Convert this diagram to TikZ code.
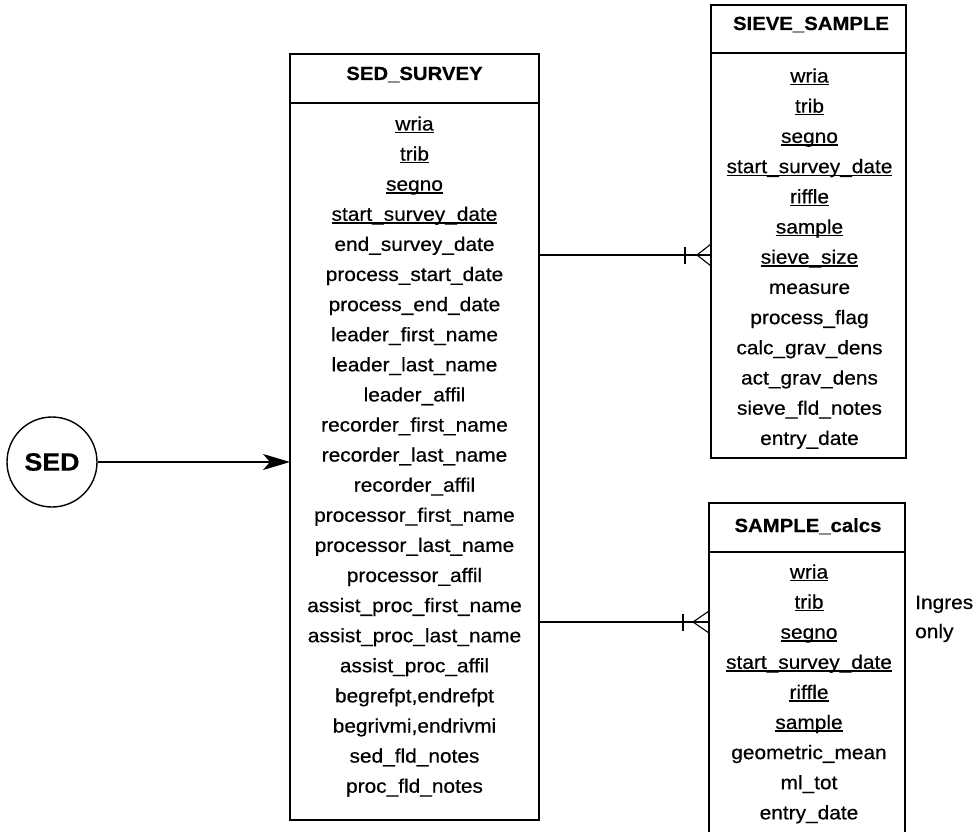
\documentclass[tikz,border=0pt]{standalone}
\usepackage{fontspec}
\setmainfont{Liberation Sans}[FakeStretch=1.07,FakeBold=0.5]
\usetikzlibrary{arrows.meta}

% key attribute: text with a rule just under the baseline
\newcommand\keyfield[1]{\setbox0\hbox{#1}\rlap{\rule[-2.8pt]{\wd0}{1.4pt}}\box0}

\tikzset{
  field/.style={font=\fontsize{19.5}{22}\selectfont, anchor=base, inner sep=0pt},
  etitle/.style={font=\fontsize{19}{22}\selectfont\bfseries, anchor=base, inner sep=0pt},
  box/.style={draw, line width=1.6pt, inner sep=0pt, outer sep=0pt},
  link/.style={line width=1.1pt},
  note/.style={font=\fontsize{19.5}{22}\selectfont, anchor=base west, inner sep=0pt},
}

\begin{document}
\begin{tikzpicture}[x=1pt,y=-1pt]
\useasboundingbox (0,0) rectangle (977,832);

% ---------- SED_SURVEY ----------
\node[box, anchor=north west, minimum width=249, minimum height=49] (surveyhead) at (290,54) {};
\node[box, anchor=north west, minimum width=249, minimum height=717] (surveybody) at (290,103) {};
\node[etitle] (surveytitle) at (414.5,80) {SED\_SURVEY};
\foreach \t [count=\i from 0] in {
  \keyfield{wria}, \keyfield{trib}, \keyfield{segno}, \keyfield{start\_survey\_date},
  end\_survey\_date, process\_start\_date, process\_end\_date,
  leader\_first\_name, leader\_last\_name, leader\_affil,
  recorder\_first\_name, recorder\_last\_name, recorder\_affil,
  processor\_first\_name, processor\_last\_name, processor\_affil,
  assist\_proc\_first\_name, assist\_proc\_last\_name, assist\_proc\_affil,
  {begrefpt,endrefpt}, {begrivmi,endrivmi}, sed\_fld\_notes, proc\_fld\_notes}
  \node[field] (sv\i) at (414.5,{130.5+30.1*\i}) {\t};

% ---------- SIEVE_SAMPLE ----------
\node[box, anchor=north west, minimum width=195, minimum height=48] (sievehead) at (711,5) {};
\node[box, anchor=north west, minimum width=195, minimum height=405] (sievebody) at (711,53) {};
\node[etitle] (sievetitle) at (811,30) {SIEVE\_SAMPLE};
\foreach \t [count=\i from 0] in {
  \keyfield{wria}, \keyfield{trib}, \keyfield{segno}, \keyfield{start\_survey\_date},
  \keyfield{riffle}, \keyfield{sample}, \keyfield{sieve\_size},
  measure, process\_flag, calc\_grav\_dens, act\_grav\_dens,
  sieve\_fld\_notes, entry\_date}
  \node[field] (ss\i) at (809.5,{82.5+30.2*\i}) {\t};

% ---------- SAMPLE_calcs (runs past the lower edge) ----------
\node[box, anchor=north west, minimum width=196, minimum height=49] (calcshead) at (709,503) {};
\node[inner sep=0pt, outer sep=0pt, anchor=north west, minimum width=196, minimum height=282] (calcsbody) at (709,552) {};
\draw[line width=1.6pt] (calcsbody.south west) -- (calcsbody.north west)
  -- (calcsbody.north east) -- (calcsbody.south east);
\node[etitle] (calcstitle) at (808,532) {SAMPLE\_calcs};
\foreach \t [count=\i from 0] in {
  \keyfield{wria}, \keyfield{trib}, \keyfield{segno}, \keyfield{start\_survey\_date},
  \keyfield{riffle}, \keyfield{sample},
  geometric\_mean, ml\_tot, entry\_date}
  \node[field] (sc\i) at (809,{578.5+30.1*\i}) {\t};

\node[note] (ingres) at (915,609) {Ingres};
\node[note] (only) at (915,638) {only};

% ---------- SED view and its arrow ----------
\node[circle, draw, line width=1.4pt, minimum size=90, inner sep=0pt,
      font=\fontsize{25}{28}\selectfont\bfseries] (sed) at (52,462) {SED};
\draw[link, -{Stealth[length=27pt,width=16pt,inset=7pt]}] (sed.east) -- (sed.east -| surveybody.west);

% ---------- one-to-many relationships ----------
\coordinate (r1s) at (surveybody.east |- 0,255);
\coordinate (r1e) at (sievebody.west |- 0,255);
\coordinate (r2s) at (surveybody.east |- 0,622);
\coordinate (r2e) at (calcsbody.west |- 0,622);

\draw[link] (r1s) -- (r1e);
\draw[link] ([xshift=-26pt,yshift=-8.5pt]r1e) -- ([xshift=-26pt,yshift=8.5pt]r1e);
\draw[link] ([yshift=11pt]r1e) -- ([xshift=-14pt]r1e) -- ([yshift=-11pt]r1e);

\draw[link] (r2s) -- (r2e);
\draw[link] ([xshift=-26pt,yshift=-8.5pt]r2e) -- ([xshift=-26pt,yshift=8.5pt]r2e);
\draw[link] ([yshift=11pt]r2e) -- ([xshift=-16pt]r2e) -- ([yshift=-11pt]r2e);
\end{tikzpicture}
\end{document}
